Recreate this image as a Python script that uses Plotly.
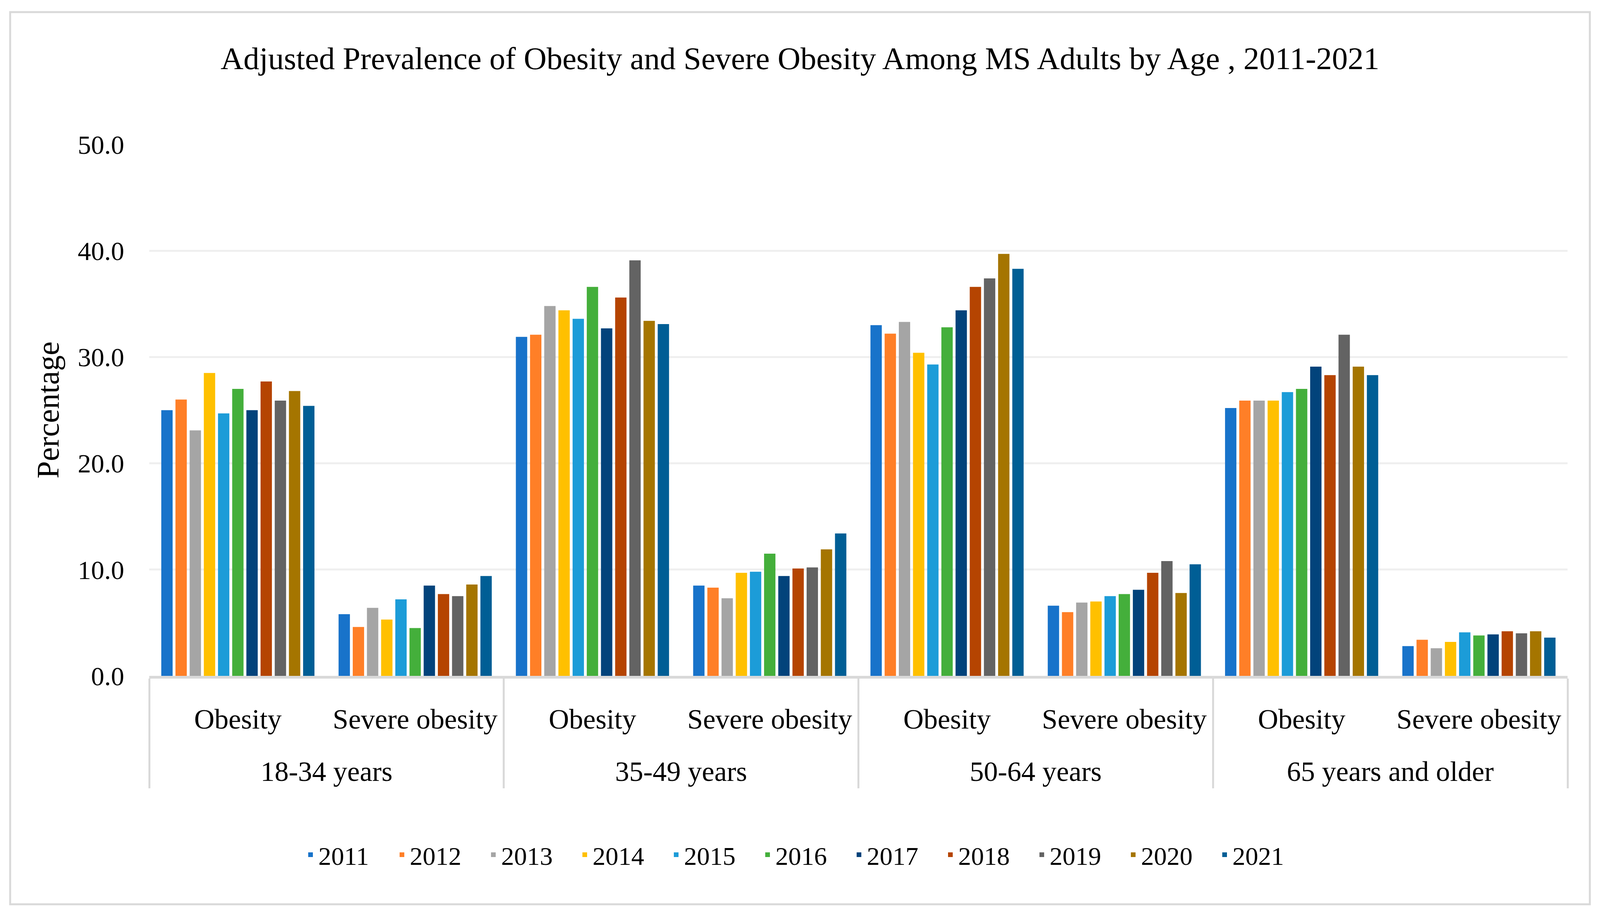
import plotly.graph_objects as go

# Jaren (series) en kleuren zoals in de Excel-grafiek
years = ['2011', '2012', '2013', '2014', '2015', '2016', '2017', '2018', '2019', '2020', '2021']
colors = ['#1873CA', '#FF7F27', '#A5A5A5', '#FFC000', '#1C9CD8', '#44AF3B',
          '#02437B', '#B54401', '#636363', '#A57500', '#005E95']

age_groups = ['18-34 years', '35-49 years', '50-64 years', '65 years and older']
measures = ['Obesity', 'Severe obesity']

# Waarden per categorie, 2011 t/m 2021
obesity_18_34 = [25.0, 26.0, 23.1, 28.5, 24.7, 27.0, 25.0, 27.7, 25.9, 26.8, 25.4]
severe_18_34 = [5.8, 4.6, 6.4, 5.3, 7.2, 4.5, 8.5, 7.7, 7.5, 8.6, 9.4]
obesity_35_49 = [31.9, 32.1, 34.8, 34.4, 33.6, 36.6, 32.7, 35.6, 39.1, 33.4, 33.1]
severe_35_49 = [8.5, 8.3, 7.3, 9.7, 9.8, 11.5, 9.4, 10.1, 10.2, 11.9, 13.4]
obesity_50_64 = [33.0, 32.2, 33.3, 30.4, 29.3, 32.8, 34.4, 36.6, 37.4, 39.7, 38.3]
severe_50_64 = [6.6, 6.0, 6.9, 7.0, 7.5, 7.7, 8.1, 9.7, 10.8, 7.8, 10.5]
obesity_65_plus = [25.2, 25.9, 25.9, 25.9, 26.7, 27.0, 29.1, 28.3, 32.1, 29.1, 28.3]
severe_65_plus = [2.8, 3.4, 2.6, 3.2, 4.1, 3.8, 3.9, 4.2, 4.0, 4.2, 3.6]

categories = [obesity_18_34, severe_18_34, obesity_35_49, severe_35_49,
              obesity_50_64, severe_50_64, obesity_65_plus, severe_65_plus]

# Buitenste labels krijgen een lege regel erboven, zoals de ruimte in Excel
x_outer = ['<br>' + g for g in age_groups for _ in measures]
x_inner = [m for _ in age_groups for m in measures]

font = 'Liberation Serif, Times New Roman, serif'

# Het venster is in de praktijk 4096 breed, dus daarop schalen
W, H = 4096, 2346
left, right, top, bottom = 382, 83, 370, 615
pw, ph = W - left - right, H - top - bottom


def px_x(x):
    return (x - left) / pw


def px_y(y):
    return (H - bottom - y) / ph


fig = go.Figure()
for i, year in enumerate(years):
    fig.add_trace(go.Bar(name=year,
                         x=[x_outer, x_inner],
                         y=[cat[i] for cat in categories],
                         marker=dict(color=colors[i], line=dict(width=0))))

fig.update_layout(width=W, height=H,
                  plot_bgcolor='white', paper_bgcolor='white',
                  font=dict(family=font, color='black', size=72),
                  margin=dict(l=left, r=right, t=top, b=bottom, autoexpand=False),
                  barmode='group', bargap=0.12, bargroupgap=0.2,
                  title=dict(text='Adjusted Prevalence of Obesity and Severe Obesity Among MS Adults by Age , 2011-2021',
                             x=0.5, xref='container', xanchor='center',
                             y=1 - 149 / H, yref='container', yanchor='middle',
                             font=dict(family=font, size=81, color='black')),
                  legend=dict(orientation='h', x=px_x(2062), xanchor='center',
                              y=px_y(2189), yanchor='middle',
                              font=dict(family=font, size=66),
                              entrywidth=189, traceorder='normal'))

fig.update_yaxes(range=[0, 50], dtick=10, tickformat='.1f',
                 showgrid=True, gridcolor='#EFEFEF', gridwidth=5,
                 zeroline=False, showline=False, ticks='',
                 ticklabelstandoff=63, tickfont=dict(size=68))

fig.update_xaxes(type='multicategory', showline=True, linecolor='#D9D9D9', linewidth=7,
                 showdividers=True, dividercolor='#D9D9D9', dividerwidth=5,
                 ticks='', ticklabelstandoff=42, tickfont=dict(size=72))

# Y-as titel
fig.add_annotation(text='Percentage', textangle=-90, xref='paper', yref='paper',
                   x=px_x(122), y=0.5, xanchor='center', yanchor='middle',
                   showarrow=False, font=dict(family=font, size=80))

# Lichtgrijze rand rond de grafiek
fig.add_shape(type='rect', xref='paper', yref='paper',
              x0=px_x(26), x1=px_x(4070), y0=px_y(2316), y1=px_y(31),
              line=dict(color='#D9D9D9', width=5), layer='below')

fig.write_html('out.html', config={'displayModeBar': False},
               post_script="document.body.style.margin='0';")
